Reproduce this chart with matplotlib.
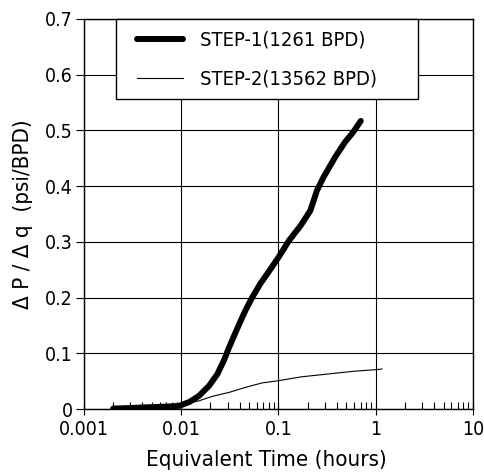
import matplotlib
matplotlib.use("Agg")
import matplotlib.pyplot as plt
from matplotlib.patches import Rectangle
from matplotlib.ticker import LogLocator, NullFormatter, FixedLocator, FixedFormatter

plt.rcParams['font.family'] = ['DejaVu Sans']
plt.rcParams['font.stretch'] = 'condensed'

# STEP-1 (1261 BPD)
t1 = [0.002, 0.003, 0.004, 0.006, 0.008, 0.0096, 0.0122, 0.0153, 0.0194, 0.0236,
      0.0276, 0.031, 0.0349, 0.0392, 0.0458, 0.0536, 0.0652, 0.0791, 0.1, 0.128,
      0.169, 0.213, 0.249, 0.291, 0.383, 0.484, 0.588, 0.703]
v1 = [0.001, 0.002, 0.003, 0.004, 0.005, 0.006, 0.013, 0.024, 0.042, 0.063,
      0.088, 0.11, 0.131, 0.151, 0.177, 0.2, 0.225, 0.246, 0.272, 0.302,
      0.329, 0.356, 0.392, 0.416, 0.452, 0.479, 0.497, 0.517]

# STEP-2 (13562 BPD)
t2 = [0.002, 0.003, 0.004, 0.006, 0.008, 0.0096, 0.0122, 0.0153, 0.021, 0.031,
      0.0458, 0.0677, 0.1, 0.126, 0.173, 0.322, 0.6, 1.04, 1.16]
v2 = [0.001, 0.002, 0.003, 0.004, 0.005, 0.006, 0.011, 0.015, 0.023, 0.030,
      0.039, 0.047, 0.051, 0.054, 0.058, 0.063, 0.068, 0.071, 0.072]

xticks = [0.001, 0.01, 0.1, 1, 10]
xticklabels = ["0.001", "0.01", "0.1", "1", "10"]
yticks = [0, 0.1, 0.2, 0.3, 0.4, 0.5, 0.6, 0.7]
yticklabels = ["0", "0.1", "0.2", "0.3", "0.4", "0.5", "0.6", "0.7"]

fig = plt.figure(figsize=(4.85, 4.73), dpi=100)
ax = fig.add_axes([0.173, 0.135, 0.802, 0.825])

ax.plot(t1, v1, color='black', linewidth=4.3, solid_capstyle='round',
        solid_joinstyle='round', label="STEP-1(1261 BPD)", zorder=3)
ax.plot(t2, v2, color='black', linewidth=0.8, label="STEP-2(13562 BPD)", zorder=3)

ax.set_xscale('log')
ax.set_xlim(0.001, 10)
ax.set_ylim(0, 0.7)
ax.xaxis.set_major_locator(FixedLocator(xticks))
ax.xaxis.set_major_formatter(FixedFormatter(xticklabels))
ax.xaxis.set_minor_locator(LogLocator(base=10, subs=range(2, 10)))
ax.xaxis.set_minor_formatter(NullFormatter())
ax.yaxis.set_major_locator(FixedLocator(yticks))
ax.yaxis.set_major_formatter(FixedFormatter(yticklabels))

ax.grid(True, which='major', color='black', linewidth=0.8)
ax.tick_params(axis='x', which='minor', direction='in', length=5, width=0.8, bottom=True, top=False)
ax.tick_params(axis='x', which='major', direction='inout', length=8, width=0.8, labelsize=14, pad=4)
ax.tick_params(axis='y', which='major', direction='out', length=6, width=0.8, labelsize=14, pad=2)
for s in ax.spines.values():
    s.set_linewidth(1.0)

ax.set_xlabel("Equivalent Time (hours)", fontsize=16)
ax.xaxis.set_label_coords(0.47, -0.105)
ax.set_ylabel("Δ P / Δ q  (psi/BPD)", fontsize=16)
ax.yaxis.set_label_coords(-0.13, 0.5)

# legend box
ax.add_patch(Rectangle((0.082, 0.795), 0.777, 0.205, transform=ax.transAxes,
                       facecolor='white', edgecolor='black', linewidth=1.0, zorder=4,
                       clip_on=False))
leg = ax.legend(loc='upper left', bbox_to_anchor=(0.136, 0.97), frameon=False,
                fontsize=14.5, handlelength=2.3, borderpad=0, labelspacing=1.0,
                handletextpad=0.85, borderaxespad=0)
leg.set_zorder(5)

fig.savefig("out.png", dpi=100)
